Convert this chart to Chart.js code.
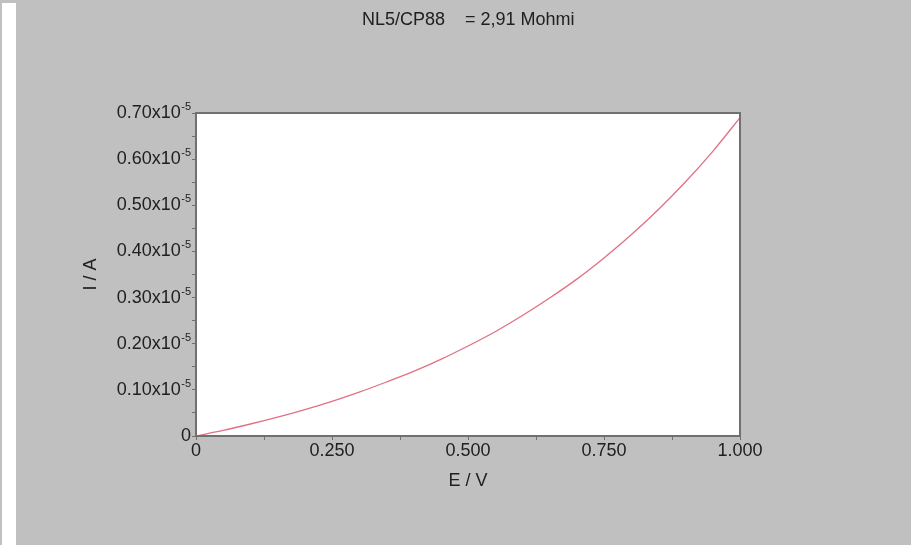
<!DOCTYPE html>
<html>
<head>
<meta charset="utf-8">
<title>NL5/CP88</title>
<script src="https://cdn.jsdelivr.net/npm/chart.js@4.4.0/dist/chart.umd.min.js"></script>
<style>
  html, body { margin: 0; padding: 0; background: #c0c0c0; overflow: hidden; }
  #strip { position: absolute; left: 2px; top: 3px; width: 14px; height: 542px; background: #fff; }
  #wrap { position: absolute; left: 0; top: 0; width: 911px; height: 545px; }
</style>
</head>
<body>
<div id="strip"></div>
<div id="wrap"><canvas id="ivChart" width="911" height="545"></canvas></div>
<script>
// potential E in V
const potential = [0, 0.05, 0.10, 0.15, 0.20, 0.25, 0.30, 0.35, 0.40, 0.45, 0.50,
                   0.55, 0.60, 0.65, 0.70, 0.75, 0.80, 0.85, 0.90, 0.95, 1.00];
// current I in units of 1e-5 A
const current = [0, 0.012, 0.026, 0.041, 0.057, 0.075, 0.095, 0.117, 0.140, 0.166, 0.195,
                 0.226, 0.261, 0.299, 0.340, 0.386, 0.436, 0.491, 0.551, 0.617, 0.690];

const yTicks = [0, 0.10, 0.20, 0.30, 0.40, 0.50, 0.60, 0.70];
const xTickLabels = ["0", "0.250", "0.500", "0.750", "1.000"];

const titleText = "NL5/CP88    = 2,91 Mohmi";
const xTitle = "E / V";
const yTitle = "I / A";

const FONT = "'Liberation Sans', Arial, sans-serif";
const TEXT = "#202020";
const FRAME = "#707070";

// white plot box, frame and the hand-set labels (superscript exponents)
const decor = {
  id: "decor",
  beforeDatasetsDraw(chart) {
    const { ctx, chartArea: a } = chart;
    ctx.save();
    ctx.fillStyle = "#fff";
    ctx.fillRect(a.left, a.top, a.right - a.left, a.bottom - a.top);
    ctx.restore();
  },
  afterDraw(chart) {
    const { ctx, chartArea: a } = chart;
    const y = chart.scales.y;
    ctx.save();
    ctx.strokeStyle = FRAME;
    ctx.lineWidth = 2;
    ctx.strokeRect(a.left, a.top, a.right - a.left, a.bottom - a.top);

    ctx.fillStyle = TEXT;
    ctx.textBaseline = "middle";

    // y tick labels
    const xr = 191;
    yTicks.forEach(v => {
      const py = y.getPixelForValue(v);
      if (v === 0) {
        ctx.font = "18px " + FONT;
        ctx.textAlign = "right";
        ctx.fillText("0", xr, py);
        return;
      }
      ctx.font = "11px " + FONT;
      const supW = ctx.measureText("-5").width;
      ctx.textAlign = "left";
      ctx.fillText("-5", xr - supW, py - 6);
      ctx.font = "18px " + FONT;
      ctx.textAlign = "right";
      ctx.fillText(v.toFixed(2) + "x10", xr - supW - 0.5, py);
    });

    // titles
    ctx.font = "18px " + FONT;
    ctx.textAlign = "left";
    ctx.fillText(titleText, 362, 20);
    ctx.textAlign = "center";
    ctx.fillText(xTitle, (a.left + a.right) / 2, 481);
    ctx.translate(91, (a.top + a.bottom) / 2);
    ctx.rotate(-Math.PI / 2);
    ctx.fillText(yTitle, 0, 0);
    ctx.restore();
  }
};

const points = potential.map((e, i) => ({ x: e, y: current[i] }));

new Chart(document.getElementById("ivChart"), {
  type: "line",
  data: {
    datasets: [{
      data: points,
      borderColor: "rgb(226,112,130)",
      borderWidth: 1.3,
      pointRadius: 0,
      tension: 0.3,
      fill: false
    }]
  },
  options: {
    responsive: false,
    animation: false,
    devicePixelRatio: 1,
    layout: { padding: { top: 113, right: 171, left: 0, bottom: 0 } },
    plugins: { legend: { display: false }, tooltip: { enabled: false }, title: { display: false } },
    scales: {
      x: {
        type: "linear",
        min: 0,
        max: 1,
        border: { display: false },
        grid: { drawOnChartArea: false, drawTicks: true, tickLength: 4, color: FRAME },
        ticks: {
          stepSize: 0.125,
          autoSkip: false,
          maxRotation: 0,
          padding: 0,
          color: TEXT,
          font: { family: FONT, size: 18 },
          callback: v => {
            const i = Math.round(v * 4);
            return Math.abs(v * 4 - i) < 1e-9 ? xTickLabels[i] : "";
          }
        },
        afterFit: s => { s.height = 109; }
      },
      y: {
        type: "linear",
        min: 0,
        max: 0.7,
        border: { display: false },
        grid: { drawOnChartArea: false, drawTicks: true, tickLength: 4, color: FRAME },
        ticks: { stepSize: 0.05, display: false },
        afterFit: s => { s.width = 196; }
      }
    }
  },
  plugins: [decor]
});
</script>
</body>
</html>
